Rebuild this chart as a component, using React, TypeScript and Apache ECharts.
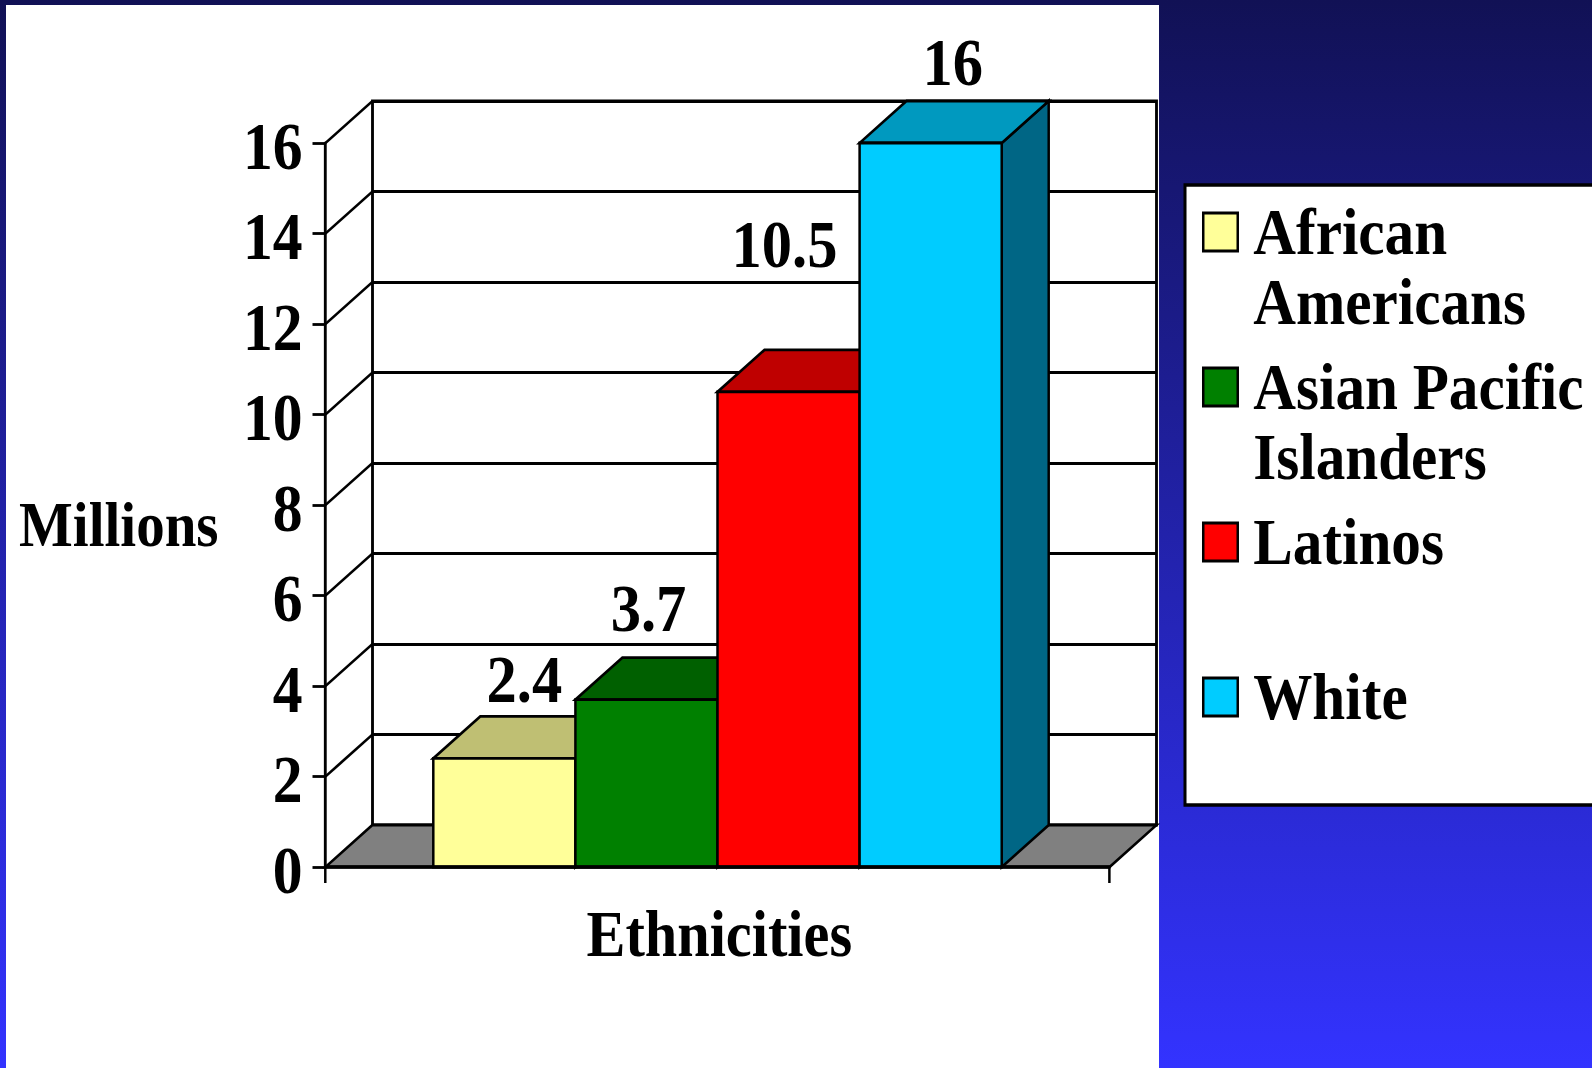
import React, { useEffect, useRef } from "react";
import * as echarts from "echarts";

// ---- data ----
const seriesNames = ["African Americans", "Asian Pacific Islanders", "Latinos", "White"];
const seriesValues = [2.4, 3.7, 10.5, 16];
const valueLabels = ["2.4", "3.7", "10.5", "16"];
const legendLines = [
  ["African", "Americans"],
  ["Asian Pacific", "Islanders"],
  ["Latinos", " "],
  ["White", " "],
];
const yTicks = [0, 2, 4, 6, 8, 10, 12, 14, 16];
const categories = ["Ethnicities"];

// ---- colours ----
const frontColors = ["#ffff99", "#008000", "#ff0000", "#00ccff"];
const topColors = ["#bfbf73", "#006000", "#bf0000", "#0099bf"];
const sideColors = ["#808040", "#004000", "#800000", "#006685"];

// ---- layout (the reference's type is condensed, so the whole chart is squeezed horizontally) ----
const S = 0.89;
const X = (px: number) => px / S;
const PAGE_W = 1592;
const PAGE_H = 1068;
const DX = X(47);
const DY = 42;
const BAR_RATIO = 142.1 / 784;
const labelNudge = [
  [X(20), -79],
  [X(2), -91],
  [X(-4), -148],
  [X(22), -81],
];
const FONT = "Liberation Serif";
const FS = 68;
const LW = 2.8;

export default function App() {
  const ref = useRef<HTMLDivElement>(null);
  useEffect(() => {
    const chart = echarts.init(ref.current!, undefined, { renderer: "svg" });

    const frameSeries = {
      type: "custom",
      xAxisIndex: 0,
      yAxisIndex: 0,
      silent: true,
      z: 1,
      data: yTicks.map((t) => [0, t]),
      renderItem: (params: any, api: any) => {
        const g = params.coordSys;
        const y = api.coord([0, api.value(1)])[1];
        const left = g.x;
        const right = g.x + g.width;
        const children: any[] = [];
        if (api.value(1) === 0) {
          children.push({
            type: "polygon",
            shape: { points: [[left, y], [left + DX, y - DY], [right + DX, y - DY], [right, y]] },
            style: { fill: "#808080", stroke: "#000", lineWidth: LW },
          });
        } else {
          children.push({
            type: "line",
            shape: { x1: left, y1: y, x2: left + DX, y2: y - DY },
            style: { stroke: "#000", lineWidth: LW },
          });
        }
        return { type: "group", children };
      },
    };

    const barSeries = seriesNames.map((name, i) => ({
      type: "custom",
      name,
      xAxisIndex: 0,
      yAxisIndex: 0,
      z: 3 + i,
      silent: true,
      data: [[0, seriesValues[i]]],
      encode: { x: 0, y: 1 },
      renderItem: (_p: any, api: any) => {
        const top = api.coord([0, api.value(1)]);
        const base = api.coord([0, 0]);
        const band = api.size([1, 0])[0];
        const w = band * BAR_RATIO;
        const x0 = top[0] - 2 * w + i * w;
        const x1 = x0 + w;
        const stroke = { stroke: "#000", lineWidth: LW, lineJoin: "miter" };
        return {
          type: "group",
          children: [
            {
              type: "polygon",
              shape: { points: [[x1, top[1]], [x1 + DX, top[1] - DY], [x1 + DX, base[1] - DY], [x1, base[1]]] },
              style: { fill: sideColors[i], ...stroke },
            },
            {
              type: "polygon",
              shape: { points: [[x0, top[1]], [x0 + DX, top[1] - DY], [x1 + DX, top[1] - DY], [x1, top[1]]] },
              style: { fill: topColors[i], ...stroke },
            },
            {
              type: "rect",
              shape: { x: x0, y: top[1], width: w, height: base[1] - top[1] },
              style: { fill: frontColors[i], ...stroke },
            },
            {
              type: "text",
              x: (x0 + x1) / 2 + labelNudge[i][0],
              y: top[1] + labelNudge[i][1],
              style: {
                text: valueLabels[i],
                fontFamily: FONT,
                fontWeight: "bold",
                fontSize: FS,
                fill: "#000",
                align: "center",
                verticalAlign: "middle",
              },
            },
          ],
        };
      },
    }));

    chart.setOption({
      animation: false,
      backgroundColor: {
        type: "linear",
        x: 0,
        y: 0,
        x2: 0,
        y2: 1,
        colorStops: [
          { offset: 0, color: "#111155" },
          { offset: 1, color: "#3333ff" },
        ],
      },
      graphic: {
        elements: [
          {
            type: "rect",
            z: -20,
            shape: { x: X(6), y: 5, width: X(1153), height: PAGE_H },
            style: { fill: "#ffffff" },
          },
          {
            type: "rect",
            z: -20,
            shape: { x: X(1185), y: 185, width: X(440), height: 620 },
            style: { fill: "#ffffff", stroke: "#000", lineWidth: 3.4 },
          },
        ],
      },
      grid: [
        { left: X(325.5), top: 143, width: X(784), height: 724, show: false },
        {
          left: X(372.5),
          top: 101,
          width: X(784),
          height: 724,
          show: true,
          backgroundColor: "#ffffff",
          borderColor: "#000",
          borderWidth: LW + 0.4,
        },
      ],
      xAxis: [
        {
          type: "category",
          gridIndex: 0,
          data: categories,
          z: 8,
          axisLine: { show: true, lineStyle: { color: "#000", width: 3.6 } },
          axisTick: { show: true, length: 16, lineStyle: { color: "#000", width: LW } },
          axisLabel: { show: false },
          name: "Ethnicities",
          nameLocation: "middle",
          nameGap: 34,
          nameTextStyle: {
            fontFamily: FONT,
            fontWeight: "bold",
            fontSize: 65.5,
            color: "#000",
            padding: [0, 0, 0, 4],
          },
        },
        { type: "category", gridIndex: 1, data: categories, show: false },
      ],
      yAxis: [
        {
          type: "value",
          gridIndex: 0,
          min: 0,
          max: 16,
          interval: 2,
          z: 8,
          axisLine: { show: true, lineStyle: { color: "#000", width: LW + 0.4 } },
          axisTick: { show: true, length: X(13), lineStyle: { color: "#000", width: LW } },
          axisLabel: {
            margin: X(23),
            fontFamily: FONT,
            fontWeight: "bold",
            fontSize: 67,
            color: "#000",
            verticalAlign: "top",
            lineHeight: 6,
          },
          splitLine: { show: false },
          name: "Millions",
          nameLocation: "middle",
          nameRotate: 0,
          nameGap: X(107),
          nameTextStyle: {
            fontFamily: FONT,
            fontWeight: "bold",
            fontSize: 64,
            color: "#000",
            verticalAlign: "top",
            lineHeight: 38,
          },
        },
        {
          type: "value",
          gridIndex: 1,
          min: 0,
          max: 16,
          interval: 2,
          axisLine: { show: false },
          axisTick: { show: false },
          axisLabel: { show: false },
          splitLine: { show: true, lineStyle: { color: "#000", width: LW, type: "solid" } },
        },
      ],
      legend: {
        orient: "vertical",
        left: X(1202),
        top: 127,
        padding: 0,
        itemGap: -55,
        itemWidth: X(34.5),
        itemHeight: 38,
        icon: "rect",
        selectedMode: false,
        data: seriesNames.map((name, i) => ({
          name,
          itemStyle: { color: frontColors[i], borderColor: "#000", borderWidth: LW },
        })),
        formatter: (name: string) => {
          const i = seriesNames.indexOf(name);
          return "\n" + legendLines[i].join("\n");
        },
        textStyle: {
          fontFamily: FONT,
          fontWeight: "bold",
          fontSize: 66.5,
          lineHeight: 70,
          color: "#000",
          padding: [0, 0, 0, X(11)],
        },
      },
      series: [frameSeries, ...barSeries],
    });
    return () => chart.dispose();
  }, []);

  return (
    <div style={{ position: "fixed", left: 0, top: 0, width: PAGE_W, height: PAGE_H, overflow: "hidden" }}>
      <div
        ref={ref}
        style={{
          width: X(PAGE_W),
          height: PAGE_H,
          transform: `scaleX(${S})`,
          transformOrigin: "0 0",
        }}
      />
    </div>
  );
}
